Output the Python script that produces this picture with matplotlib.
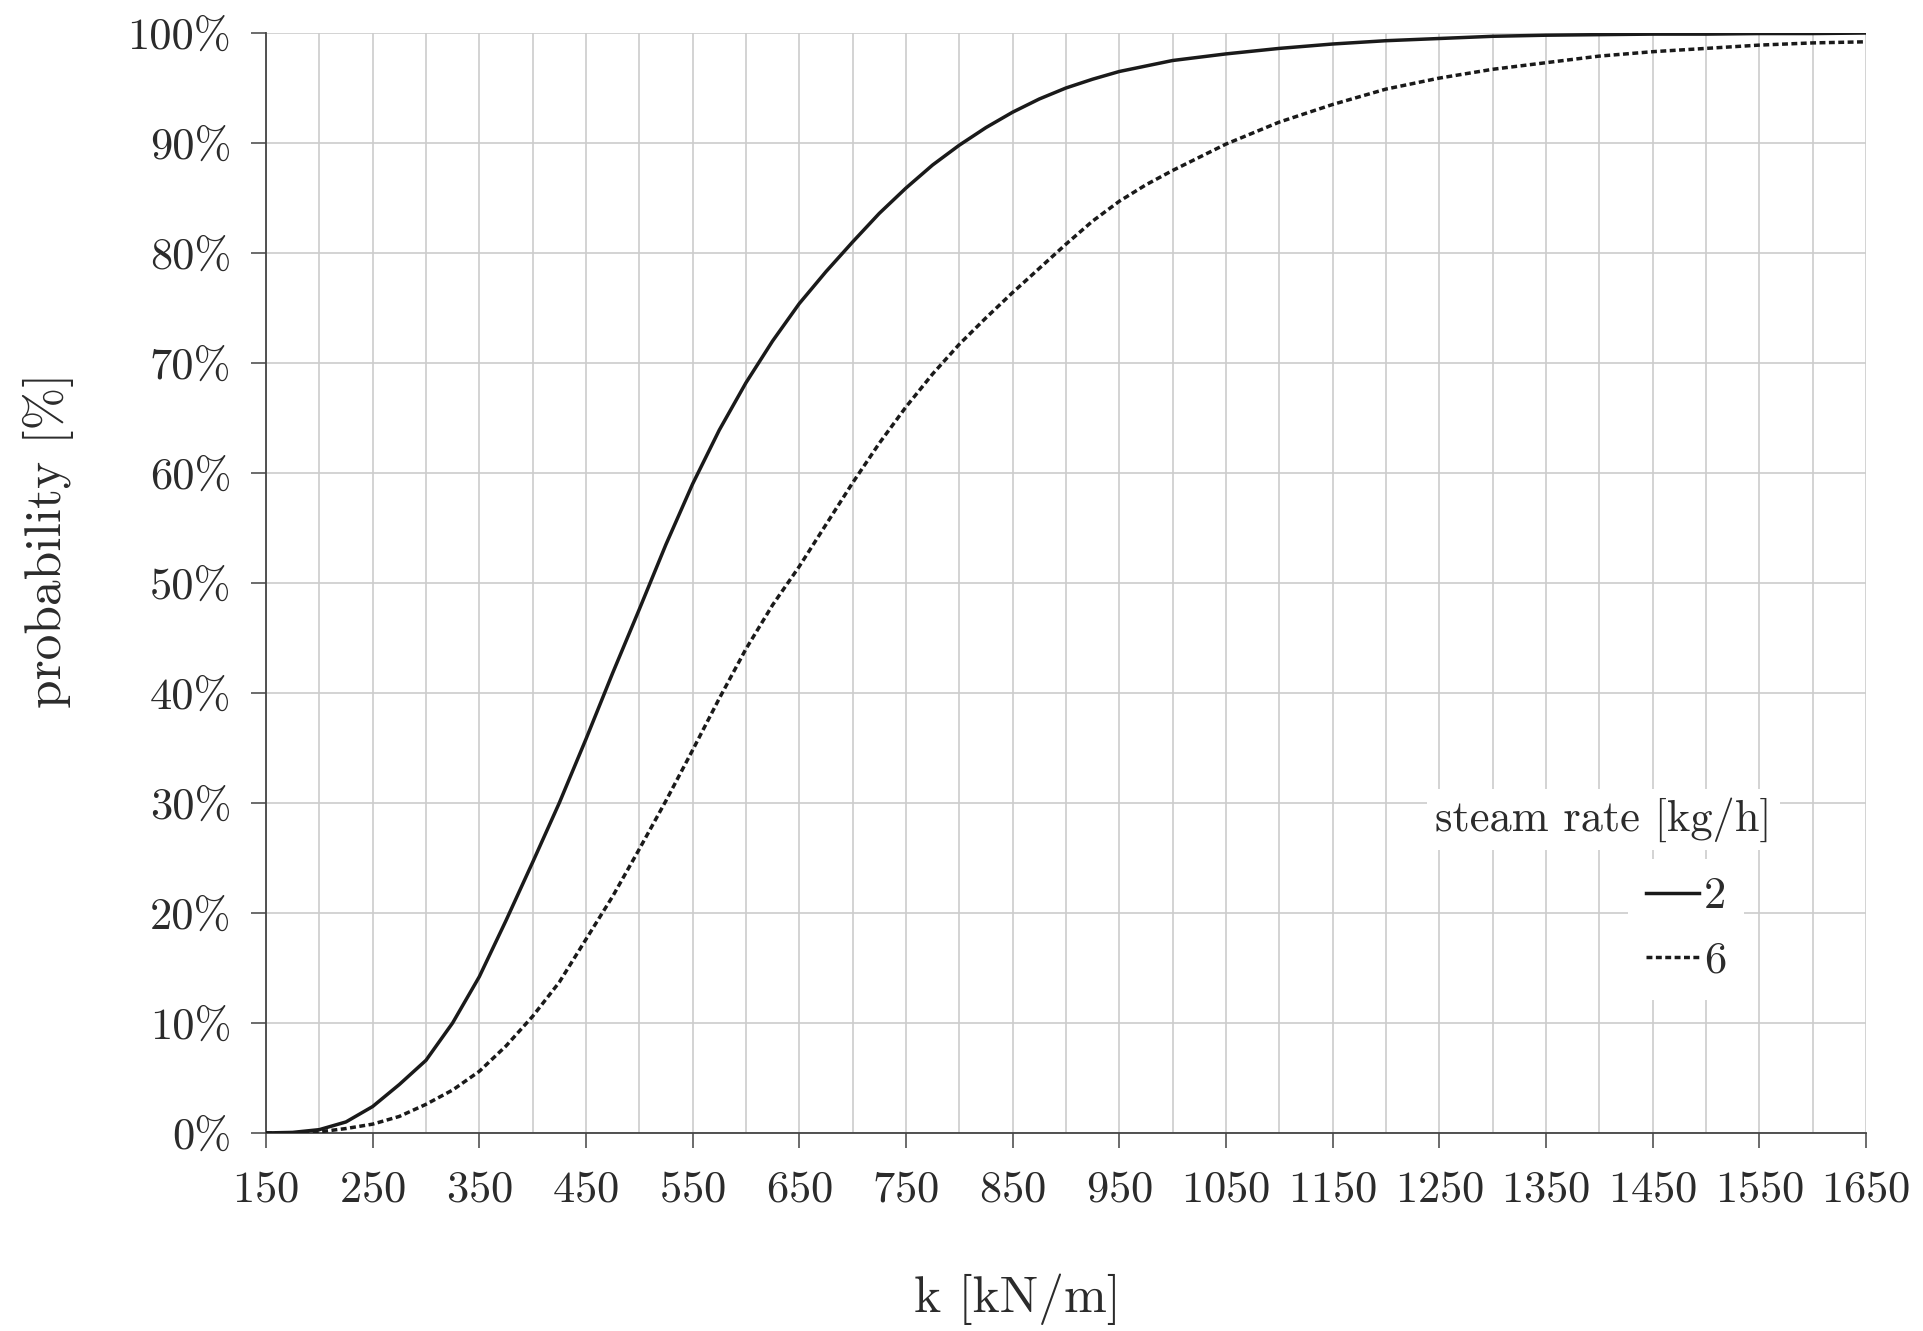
import matplotlib
matplotlib.use("Agg")
import matplotlib.pyplot as plt

matplotlib.rcParams.update(
    {
        "font.family": ["cmr10", "DejaVu Serif"],
        "axes.formatter.use_mathtext": True,
        "font.size": 32,
        "text.color": "#2b2b2b",
        "axes.labelcolor": "#2b2b2b",
        "xtick.color": "#2b2b2b",
        "ytick.color": "#2b2b2b",
    }
)

# values (cumulative probability, %)
k = [150, 175, 200, 225, 250, 275, 300, 325, 350, 375, 400, 425, 450, 475,
     500, 525, 550, 575, 600, 625, 650, 675, 700, 725, 750, 775, 800, 825,
     850, 875, 900, 925, 950, 975, 1000, 1050, 1100, 1150, 1200, 1250, 1300,
     1350, 1400, 1450, 1500, 1550, 1600, 1650]
p_steam_2 = [0.0, 0.05, 0.3, 1.0, 2.4, 4.4, 6.6, 10.0, 14.2, 19.3, 24.6,
             30.0, 35.8, 41.8, 47.6, 53.5, 59.0, 63.9, 68.2, 72.0, 75.4, 78.3,
             81.0, 83.6, 85.9, 88.0, 89.8, 91.4, 92.8, 94.0, 95.0, 95.8, 96.5,
             97.0, 97.5, 98.1, 98.6, 99.0, 99.3, 99.5, 99.7, 99.8, 99.85, 99.9,
             99.9, 99.95, 99.95, 100.0]
p_steam_6 = [0.0, 0.0, 0.1, 0.4, 0.8, 1.5, 2.6, 3.9, 5.6, 7.9, 10.6, 13.7,
             17.6, 21.5, 25.8, 30.2, 34.8, 39.5, 44.0, 48.0, 51.5, 55.3, 59.1,
             62.7, 66.0, 69.0, 71.7, 74.1, 76.4, 78.6, 80.8, 82.9, 84.7, 86.2,
             87.5, 89.9, 91.9, 93.5, 94.9, 95.9, 96.7, 97.3, 97.9, 98.3, 98.6,
             98.9, 99.1, 99.2]
series_labels = ["2", "6"]

x_major = list(range(150, 1651, 100))
x_minor = list(range(200, 1601, 100))
y_ticks = list(range(0, 101, 10))

fig = plt.figure(figsize=(19.23, 13.31), dpi=100)
ax = fig.add_axes([0.1383, 0.1488, 0.832, 0.8264])

ax.plot(k, p_steam_2, color="#1a1a1a", lw=2.5, label=series_labels[0], zorder=3)
ax.plot(k, p_steam_6, color="#1a1a1a", lw=2.5, dashes=(1.7, 1.0),
        label=series_labels[1], zorder=3)

ax.set_xlim(150, 1650)
ax.set_ylim(0, 100)
ax.set_xticks(x_major)
ax.set_xticks(x_minor, minor=True)
ax.set_yticks(y_ticks, labels=[f"{v}%" for v in y_ticks])

ax.grid(which="both", color="#cccccc", linewidth=1.2)
ax.set_axisbelow(True)
ax.tick_params(axis="both", which="major", length=11, width=1.1, color="#444444")
ax.tick_params(axis="x", which="major", pad=16)
ax.tick_params(axis="y", which="major", pad=14)
ax.tick_params(axis="x", which="minor", length=0)

for side in ["top", "right"]:
    ax.spines[side].set_visible(False)
for side in ["left", "bottom"]:
    ax.spines[side].set_color("#444444")
    ax.spines[side].set_linewidth(1.3)

ax.set_xlabel("k [kN/m]", fontsize=37)
ax.set_ylabel("probability [%]", fontsize=37)
ax.xaxis.set_label_coords(0.47, -0.128)
ax.yaxis.set_label_coords(-0.12, 0.539)

ax.text(0.836, 0.285, "steam rate [kg/h]", transform=ax.transAxes,
        ha="center", va="center", fontsize=32,
        bbox=dict(facecolor="white", edgecolor="none", pad=6))
leg = ax.legend(loc="center", bbox_to_anchor=(0.8875, 0.185), fontsize=32,
                frameon=True, fancybox=False, handlelength=1.2,
                handletextpad=0.1, labelspacing=0.55, borderpad=0.4)
leg.get_frame().set_facecolor("white")
leg.get_frame().set_edgecolor("none")
leg.get_frame().set_alpha(1.0)

fig.savefig("out.png", dpi=100, facecolor="white")
